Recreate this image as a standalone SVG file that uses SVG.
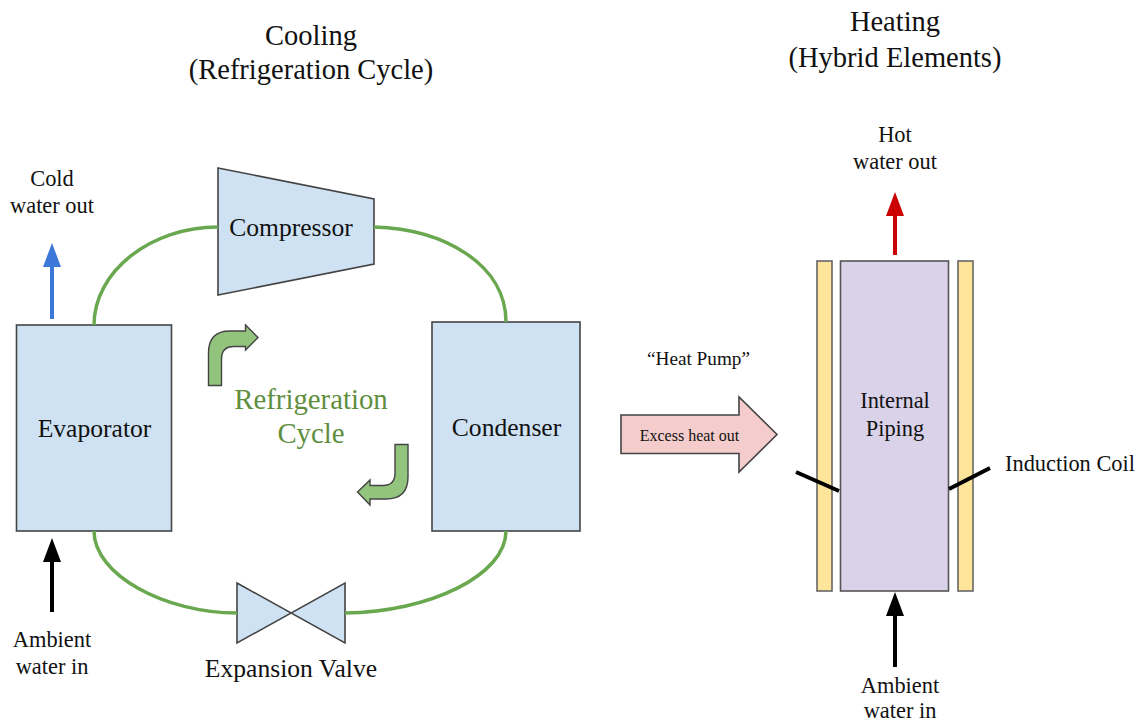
<svg xmlns="http://www.w3.org/2000/svg" width="1141" height="723" viewBox="0 0 1141 723">
<style>
text{font-family:"Liberation Serif","Times New Roman",serif;fill:#111;text-anchor:middle}
.t{font-size:28.500px}.m{font-size:25.600px}.s{font-size:22.400px}.g{font-size:28.800px;fill:#5f8f3e}
.box{fill:#cfe2f3;stroke:#444;stroke-width:1.600}
.pipe{fill:none;stroke:#6aa84f;stroke-width:3.500}
.turn{fill:#93c47d;stroke:#444;stroke-width:1.400}
.coil{fill:#ffe599;stroke:#666;stroke-width:1.600}
.blk{stroke:#000;stroke-width:4;fill:none}
.flow{stroke-width:4;fill:none}
</style>
<defs>
<marker id="ab" markerUnits="userSpaceOnUse" markerWidth="24" markerHeight="18" refX="0" refY="9" orient="auto" viewBox="0 0 24 18"><path d="M0 0L24 9L0 18Z" fill="#3c78d8"/></marker>
<marker id="ar" markerUnits="userSpaceOnUse" markerWidth="24" markerHeight="18" refX="0" refY="9" orient="auto" viewBox="0 0 24 18"><path d="M0 0L24 9L0 18Z" fill="#c00"/></marker>
<marker id="ak" markerUnits="userSpaceOnUse" markerWidth="24" markerHeight="18" refX="0" refY="9" orient="auto" viewBox="0 0 24 18"><path d="M0 0L24 9L0 18Z" fill="#000"/></marker>
</defs>
<g id="title-cooling"><text class="t" x="311" y="45">Cooling</text><text class="t" x="311" y="79">(Refrigeration Cycle)</text></g>
<g id="title-heating"><text class="t" x="895" y="31">Heating</text><text class="t" x="895" y="67">(Hybrid Elements)</text></g>
<g id="cold-label"><text class="s" x="52" y="186">Cold</text><text class="s" x="52" y="213">water out</text></g>
<g id="compressor"><path class="box" d="M218 168L374 199V264L218 295Z"/><text class="m" x="291" y="236">Compressor</text></g>
<g id="evaporator"><rect class="box" x="16.500" y="325" width="155" height="206"/><text class="m" x="94.500" y="437">Evaporator</text></g>
<g id="condenser"><rect class="box" x="432" y="322" width="148" height="209"/><text class="m" x="506.500" y="436">Condenser</text></g>
<g id="valve"><path class="box" d="M237 583L345 643V583L237 643Z"/><text class="m" x="291" y="677">Expansion Valve</text></g>
<g id="cycle-label"><text class="g" x="311" y="409">Refrigeration</text><text class="g" x="311" y="443">Cycle</text></g>
<g id="turn-top"><path class="turn" d="M208.500 385.500V353Q208.500 331 230 331H245.500V325L258 337.500L245.500 350V346.500H234Q221.500 346.500 221.500 359V385.500Z"/></g>
<g id="turn-bottom"><path class="turn" d="M408 444.500V477Q408 499 386 499H370V505L357.500 492L370 480V485.500H383Q395 485.500 395 473V444.500Z"/></g>
<g id="heat-pump-label"><text x="698.500" y="365" style="font-size:19.200px">“Heat Pump”</text></g>
<g id="excess-heat"><path d="M621 415H739V397L777 434.500L739 472V453.500H621Z" fill="#f4cccc" stroke="#444" stroke-width="1.600"/><text x="689.500" y="441" style="font-size:16px">Excess heat out</text></g>
<g id="hot-label"><text class="s" x="895" y="142">Hot</text><text class="s" x="895" y="169">water out</text></g>
<g id="coil-left"><rect class="coil" x="817" y="261" width="15" height="330"/></g>
<g id="coil-right"><rect class="coil" x="958" y="261" width="15" height="330"/></g>
<g id="piping"><rect x="840.500" y="261" width="108" height="330" fill="#d9d2e9" stroke="#555" stroke-width="1.600"/><text class="s" x="895" y="408">Internal</text><text class="s" x="895" y="436">Piping</text></g>
<g id="coil-label"><text class="s" x="1070" y="471">Induction Coil</text></g>
<g id="ambient-left"><text class="s" x="52" y="647">Ambient</text><text class="s" x="52" y="674">water in</text></g>
<g id="ambient-right"><text class="s" x="900" y="693">Ambient</text><text class="s" x="900" y="718">water in</text></g>
<g id="connectors">
<path class="pipe" d="M94 325C94 272 150 227 218 227"/>
<path class="pipe" d="M374 227C445 229 506 265 506 322"/>
<path class="pipe" d="M506 531C506 575 430 612 345 613"/>
<path class="pipe" d="M94 531C94 575 165 613 237 613"/>
<path class="flow" d="M52 319V267" stroke="#3c78d8" marker-end="url(#ab)"/>
<path class="flow" d="M52 612V562" stroke="#000" marker-end="url(#ak)"/>
<path class="flow" d="M895 255V216" stroke="#c00" marker-end="url(#ar)"/>
<path class="flow" d="M895 667V616" stroke="#000" marker-end="url(#ak)"/>
<path d="M796 472L839 491" class="blk"/>
<path d="M949 489L990 468" class="blk"/>
</g>
</svg>
